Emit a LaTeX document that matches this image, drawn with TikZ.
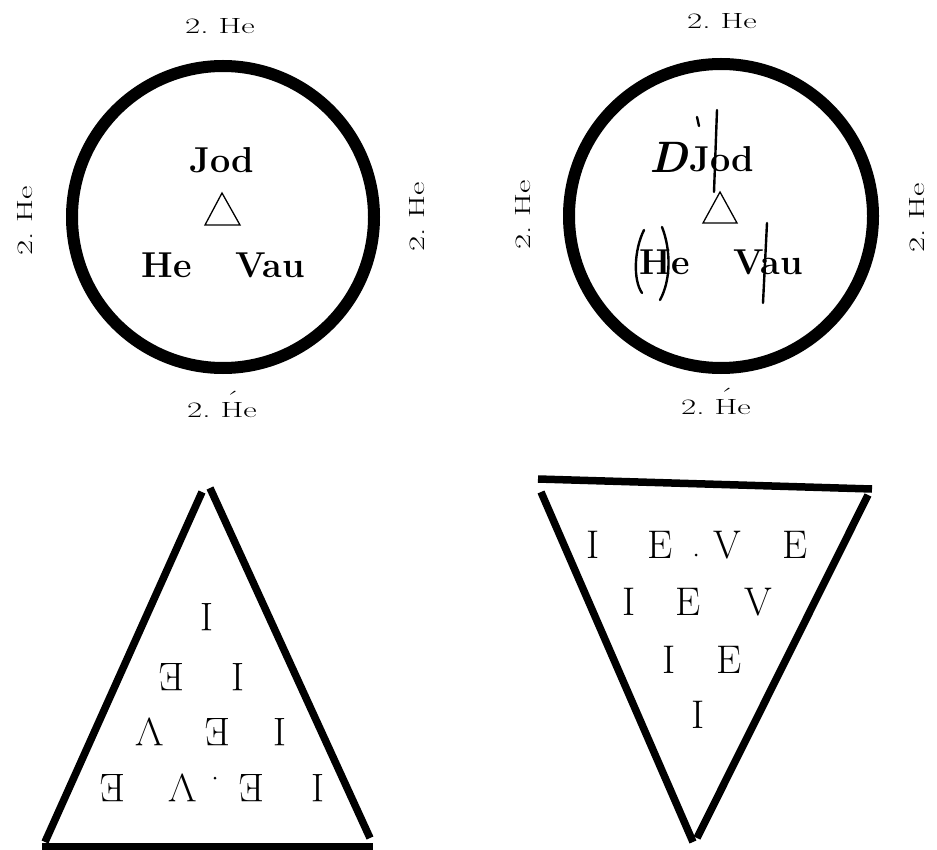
\documentclass[tikz,border=0pt]{standalone}
\usepackage{fontspec}
\usepackage{graphicx}
\usetikzlibrary{positioning}
\newcommand\heLabel{\scalebox{1.5}[1]{2.\ He}}
\newcommand\heAcute{\scalebox{1.5}[1]{2.\ H\makebox[0pt][r]{\raisebox{0.5em}{\textasciiacute}\hspace{0.12em}}e}}

\begin{document}
\begin{tikzpicture}[x=1pt,y=-1pt,
  ring/.style={line width=12pt},
  side/.style={line width=7.5pt},
  hand/.style={line width=2.4pt,line cap=round},
  lbl/.style={font=\fontsize{22}{22}\selectfont,inner sep=0pt},
  word/.style={font=\fontsize{36}{36}\selectfont\bfseries,inner sep=0pt,anchor=base},
  lett/.style={font=\fontsize{40}{40}\selectfont,inner sep=0pt}]
  \useasboundingbox (0,0) rectangle (937,850);
  \draw[ring] (223,217) circle[radius=151];
  \draw[ring] (721,216) circle[radius=152];
  \foreach \n/\x/\y/\r in {lt/220/26/0,ll/25/221/90,lr/417/217/90,
                           rt/722/21/0,rl/523/215/90,rr/917/218/90}
    \node[lbl,rotate=\r] (he-\n) at (\x,\y) {\heLabel};
  \node[lbl] (he-lb) at (222,404) {\heAcute};
  \node[lbl] (he-rb) at (716,401) {\heAcute};
  % left circle
  \node[word] (jodL) at (222,173) {Jod};
  \node[word] (heL) at (167,278) {He};
  \node[word] (vauL) at (270,278) {Vau};
  \draw[line width=1.3pt] (222,193) -- (240,225) -- (205,225) -- cycle;
  % right circle
  \node[word] (jodR) at (722,172) {Jod};
  \node[word] (heR) at (665,275) {He};
  \node[word] (vauR) at (768,275) {Vau};
  \node[font=\fontsize{44}{44}\selectfont\itshape\bfseries,anchor=base,inner sep=0pt]
    (dmark) at (669,173) {D};
  \draw[line width=1.3pt] (720,192) -- (737,223) -- (703,223) -- cycle;
  \draw[hand] (697,117) -- (699,126);
  \draw[hand] (717,110) -- (714,192);
  \draw[hand] (644,230) .. controls (634,250) and (633,280) .. (642,293);
  \draw[hand] (662,227) .. controls (671,250) and (671,280) .. (660,300);
  \draw[hand] (767,223) -- (763,303);
  % lower left triangle
  \draw[side] (45,842) -- (202,492);
  \draw[side] (210,488) -- (370,838);
  \draw[side] (42,847) -- (373,847);
  \foreach \l/\x/\y in {I/207/617,E/172/677,I/238/677,V/150/732,E/218/732,I/280/732,
                        E/113/788,V/183/788,E/252/788,I/318/788}
    \node[lett,rotate=180] (up-\x) at (\x,\y) {\l};
  \fill (215,778) circle[radius=1.5];
  % lower right triangle
  \draw[side] (538,479) -- (872,489);
  \draw[side] (541,492) -- (693,842);
  \draw[side] (868,495) -- (697,838);
  \foreach \l/\x/\y in {I/593/545,E/660/545,V/727/545,E/795/545,
                        I/629/602,E/688/602,V/758/602,I/669/660,E/729/660,I/698/715}
    \node[lett] (dn-\x) at (\x,\y) {\l};
  \fill (696,555) circle[radius=1.5];
\end{tikzpicture}
\end{document}
